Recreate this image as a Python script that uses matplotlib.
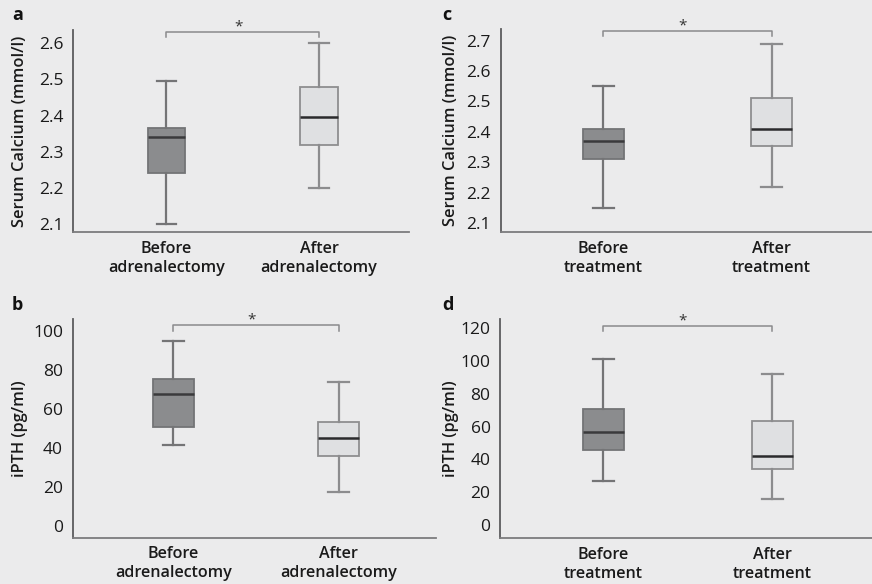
import matplotlib
matplotlib.use("Agg")
import matplotlib.pyplot as plt

# ---- data (five-number summaries: whisker low, Q1, median, Q3, whisker high) ----
calcium_adrenalectomy_before = [2.10, 2.24, 2.34, 2.365, 2.495]
calcium_adrenalectomy_after = [2.20, 2.32, 2.395, 2.48, 2.60]
ipth_adrenalectomy_before = [41.5, 50.5, 67.5, 75.0, 94.5]
ipth_adrenalectomy_after = [17.0, 35.5, 45.0, 53.0, 73.5]
calcium_treatment_before = [2.15, 2.31, 2.37, 2.41, 2.55]
calcium_treatment_after = [2.22, 2.355, 2.41, 2.51, 2.69]
ipth_treatment_before = [27.0, 45.5, 57.0, 70.5, 101.5]
ipth_treatment_after = [16.0, 34.0, 42.0, 63.5, 92.0]

labels_adrenalectomy = ["Before\nadrenalectomy", "After\nadrenalectomy"]
labels_treatment = ["Before\ntreatment", "After\ntreatment"]
calcium_ticks_a = [2.1, 2.2, 2.3, 2.4, 2.5, 2.6]
calcium_ticks_c = [2.1, 2.2, 2.3, 2.4, 2.5, 2.6, 2.7]
ipth_ticks_b = [0, 20, 40, 60, 80, 100]
ipth_ticks_d = [0, 20, 40, 60, 80, 100, 120]
panel_letters = ["a", "b", "c", "d"]
significance = "*"

BG = "#ebebec"
FONT = ["Open Sans", "DejaVu Sans"]
plt.rcParams["font.family"] = FONT

W, H = 872, 584
fig = plt.figure(figsize=(W / 100, H / 100), dpi=100)
fig.patch.set_facecolor(BG)


def rect(x0, y0, x1, y1):
    return [x0 / W, 1 - y1 / H, (x1 - x0) / W, (y1 - y0) / H]


def panel(r, before, after, xlabels, ticks, ylim, ylabel, bracket, letter, letter_xy, ylabel_x_px):
    ax = fig.add_axes(rect(*r))
    ax.set_facecolor(BG)
    stats = []
    for v in (before, after):
        stats.append(dict(whislo=v[0], q1=v[1], med=v[2], q3=v[3], whishi=v[4], fliers=[]))
    res = ax.bxp(stats, positions=[0, 1], widths=0.245, patch_artist=True,
                 showfliers=False, capwidths=0.125)
    fills = ["#8b8c8e", "#dfe0e2"]
    edges = ["#737476", "#8e8e90"]
    wcols = ["#747476", "#8c8c8e"]
    meds = ["#3a3a3c", "#2a2a2c"]
    for i in range(2):
        b = res["boxes"][i]
        b.set_facecolor(fills[i])
        b.set_edgecolor(edges[i])
        b.set_linewidth(1.3)
        res["medians"][i].set_color(meds[i])
        res["medians"][i].set_linewidth(1.8)
        for w in res["whiskers"][2 * i:2 * i + 2] + res["caps"][2 * i:2 * i + 2]:
            w.set_color(wcols[i])
            w.set_linewidth(1.6)
    ax.set_xlim(-0.61, 1.59)
    ax.set_ylim(*ylim)
    ax.set_yticks(ticks)
    ax.set_yticklabels([("%g" % t) for t in ticks], fontsize=12.5, color="#1a1a1a")
    ax.set_xticks([0, 1])
    ax.set_xticklabels(xlabels, fontsize=11.6, fontweight="semibold", color="#1a1a1a",
                       linespacing=1.25)
    ax.tick_params(axis="both", length=0)
    ax.tick_params(axis="y", pad=7)
    ax.tick_params(axis="x", pad=6)
    for s in ("top", "right"):
        ax.spines[s].set_visible(False)
    ax.spines["left"].set_color("#5c5c5e")
    ax.spines["left"].set_linewidth(1.3)
    ax.spines["bottom"].set_color("#7c7c7e")
    ax.spines["bottom"].set_linewidth(1.3)
    ax.set_ylabel(ylabel, fontsize=11.8, fontweight="semibold", color="#1a1a1a")
    axw = r[2] - r[0]
    ax.yaxis.set_label_coords((ylabel_x_px - r[0]) / axw, 0.5)
    lo, hi = bracket
    ax.plot([0, 0, 1, 1], [lo, hi, hi, lo], color="#8a8a8c", lw=1.1, clip_on=False)
    ax.annotate(significance, xy=(0.47, hi), xytext=(0, 3.5), textcoords="offset points",
                ha="center", va="center", fontsize=11, color="#333333", annotation_clip=False)
    fig.text(letter_xy[0] / W, 1 - letter_xy[1] / H, letter, fontsize=13, fontweight="bold",
             ha="left", va="center", color="#111111")
    return ax


panel((73.3, 30, 409, 232.3), calcium_adrenalectomy_before, calcium_adrenalectomy_after,
      labels_adrenalectomy, calcium_ticks_a, (2.077, 2.637), "Serum Calcium (mmol/l)",
      (2.617, 2.631), panel_letters[0], (12, 15), 28)
panel((72.7, 319.3, 436, 537.7), ipth_adrenalectomy_before, ipth_adrenalectomy_after,
      labels_adrenalectomy, ipth_ticks_b, (-6.2, 105.8), "iPTH (pg/ml)",
      (99.8, 102.8), panel_letters[1], (12, 305), 28)
panel((500.7, 29.3, 871, 232.3), calcium_treatment_before, calcium_treatment_after,
      labels_treatment, calcium_ticks_c, (2.07, 2.737), "Serum Calcium (mmol/l)",
      (2.715, 2.733), panel_letters[2], (442, 15), 458.5)
panel((500.3, 319.3, 872, 538.3), ipth_treatment_before, ipth_treatment_after,
      labels_treatment, ipth_ticks_d, (-8.1, 125.5), "iPTH (pg/ml)",
      (118.4, 121.6), panel_letters[3], (442, 305), 458.5)

fig.savefig("out.png", dpi=100, facecolor=BG)
